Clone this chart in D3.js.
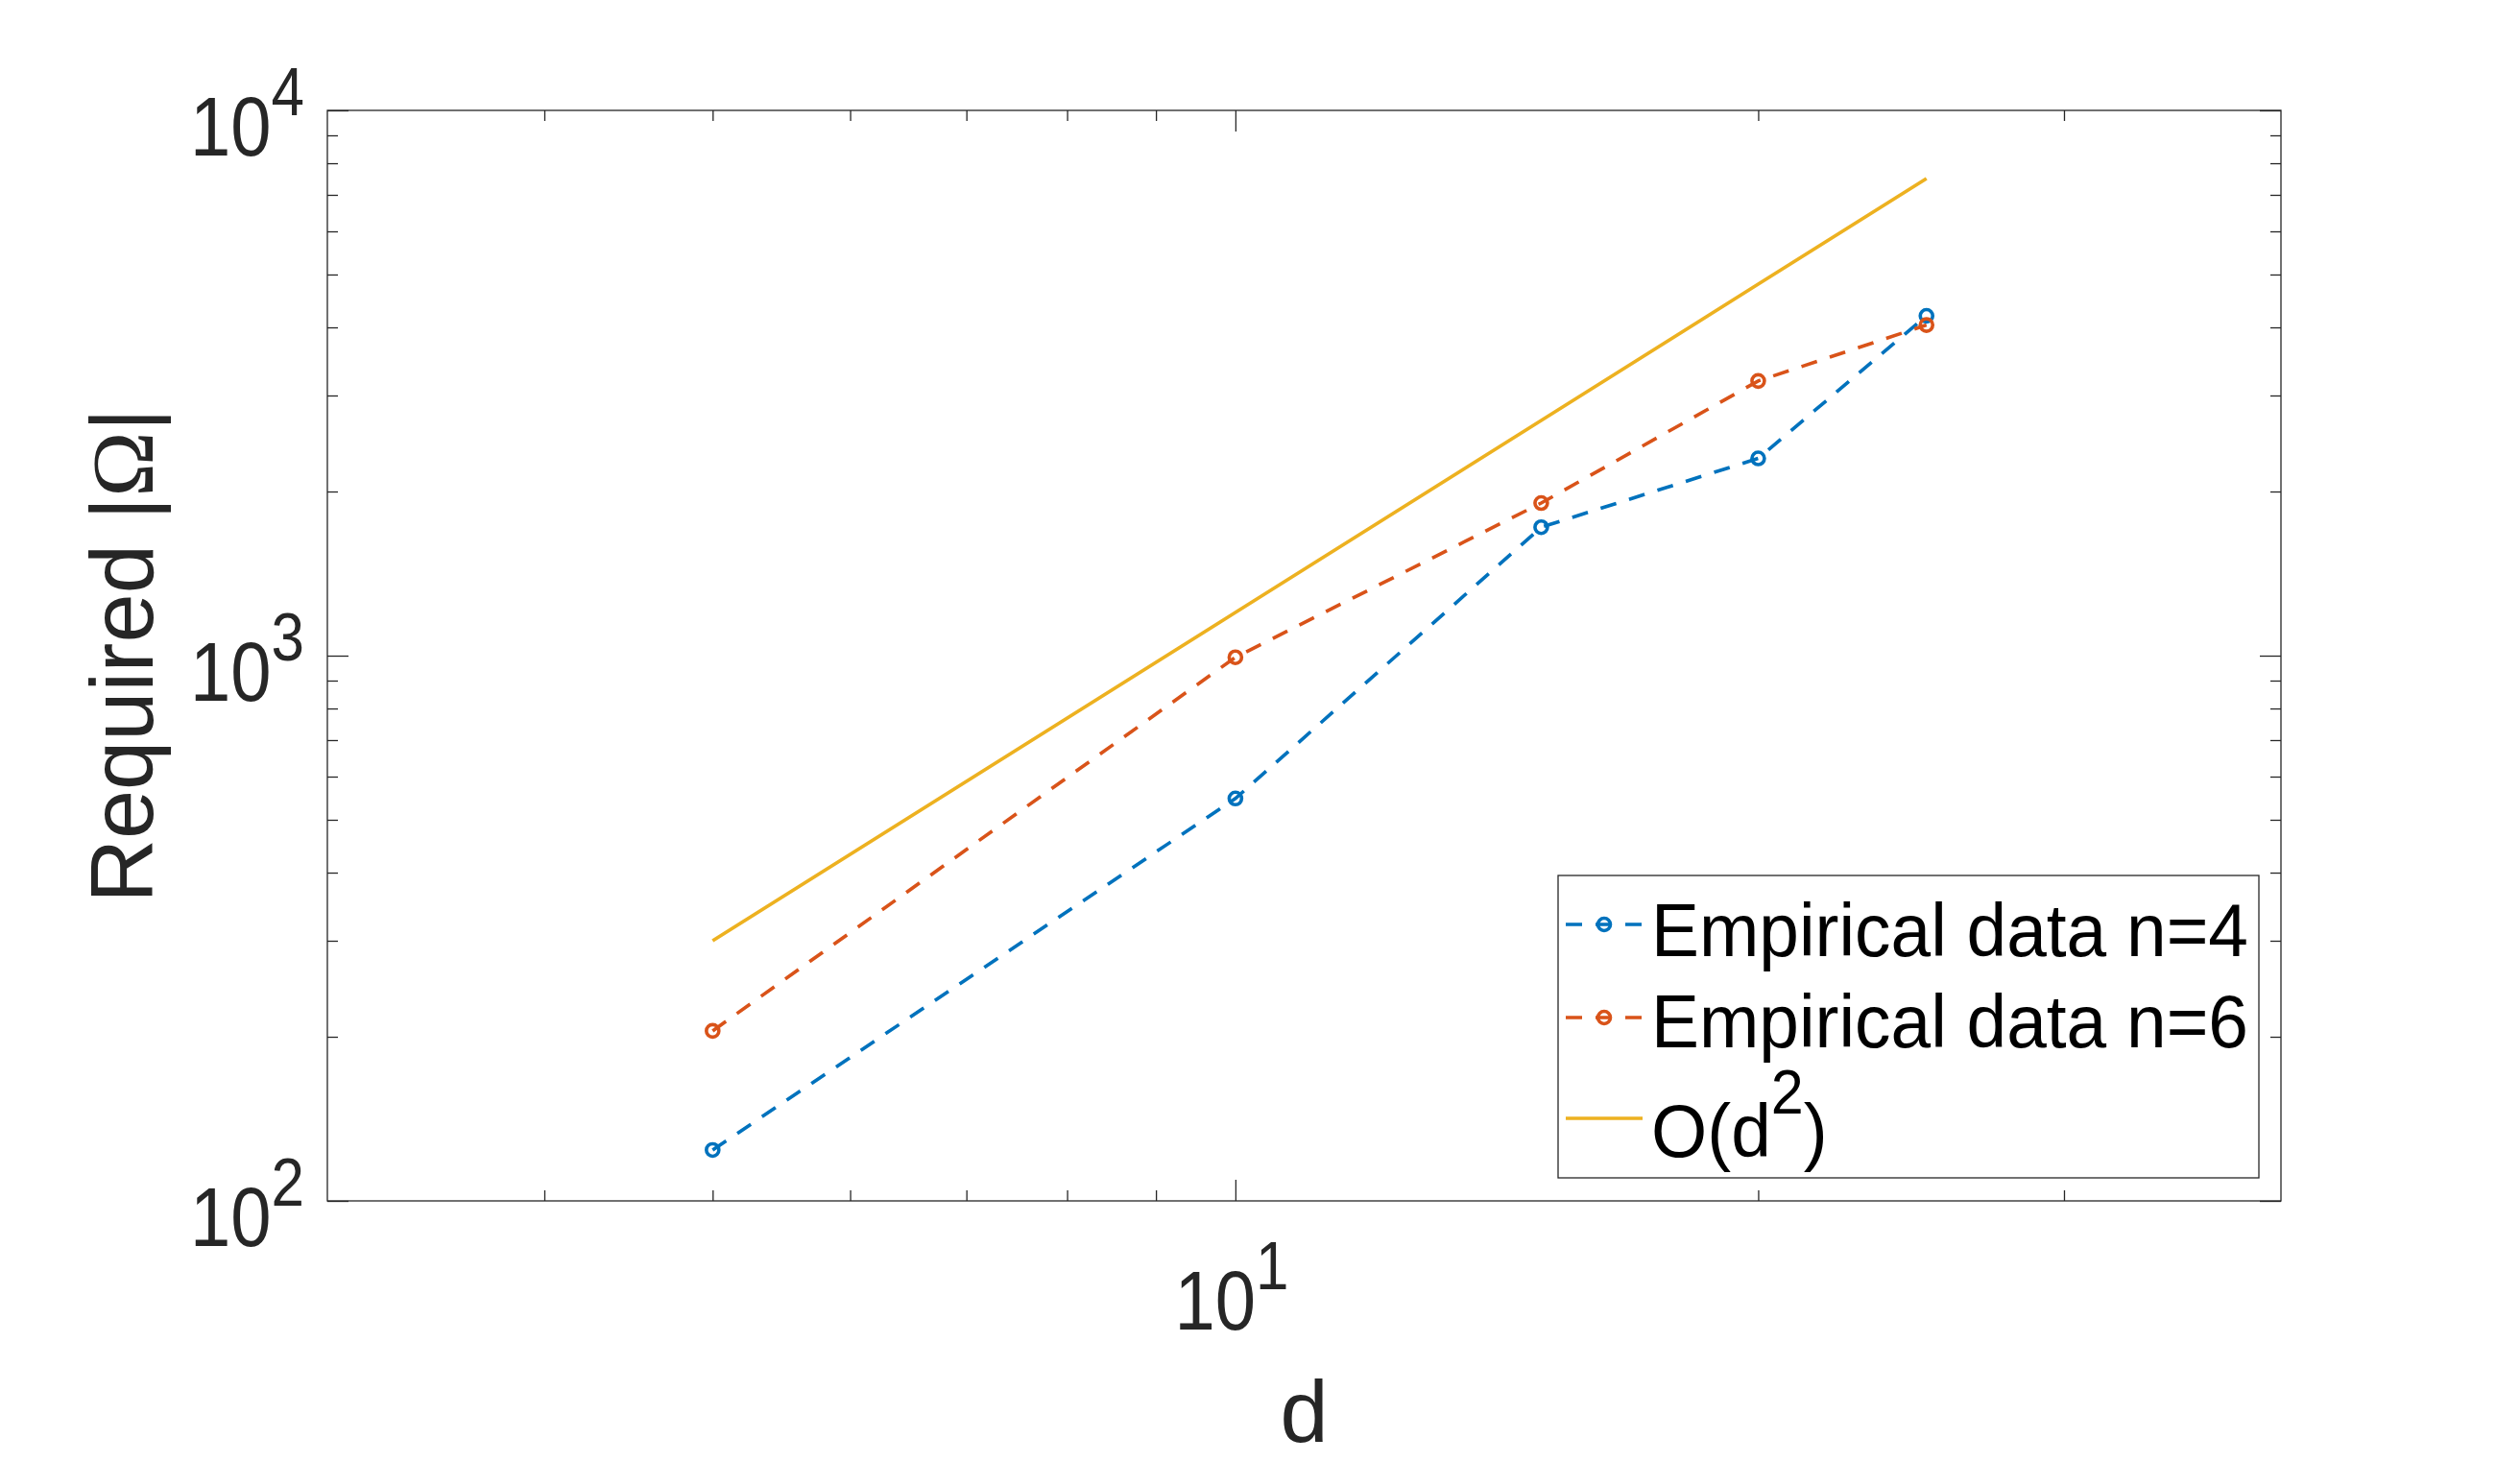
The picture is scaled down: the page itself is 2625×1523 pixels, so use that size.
<!DOCTYPE html>
<html>
<head>
<meta charset="utf-8">
<script src="https://cdnjs.cloudflare.com/ajax/libs/d3/7.8.5/d3.min.js"></script>
<style>
  body { margin: 0; background: #fff; }
  text { font-family: "Liberation Sans", Arial, Helvetica, sans-serif; }
</style>
</head>
<body>
<div class="chart"></div>
<script>
// Data
var dims = [5, 10, 15, 20, 25];
var n4Values = [124, 547, 1720, 2300, 4200];
var n6Values = [205, 993, 1905, 3190, 4040];
var refValues = [300, 1200, 2700, 4800, 7500];

var xMajorTicks = [10];
var xMinorTicks = [4, 5, 6, 7, 8, 9, 20, 30];
var yMajorTicks = [100, 1000, 10000];
var yMinorTicks = [200, 300, 400, 500, 600, 700, 800, 900,
                   2000, 3000, 4000, 5000, 6000, 7000, 8000, 9000];

var legendLabels = ["Empirical data n=4", "Empirical data n=6", "O(d"];

// SVG area
var svgWidth = 2625;
var svgHeight = 1523;
var margin = {top: 115, right: 249, bottom: 272, left: 341};
var width = svgWidth - margin.left - margin.right;
var height = svgHeight - margin.top - margin.bottom;

var blue = "#0072BD", orange = "#D95319", yellow = "#EDB120";
var axisColor = "#262626";

var svg = d3.select(".chart")
  .append("svg")
  .attr("width", svgWidth)
  .attr("height", svgHeight)
  .style("background", "#fff");

var chart = svg.append("g")
  .attr("transform", "translate(" + margin.left + "," + margin.top + ")");

// Scales
var x = d3.scaleLog().domain([3, 40]).range([0, width]);
var y = d3.scaleLog().domain([100, 10000]).range([height, 0]);

// Tick marks on all four sides, pointing inward
function ticks(axisFn, scale, vals, len, tx, ty) {
  var g = chart.append("g")
    .attr("transform", "translate(" + tx + "," + ty + ")")
    .call(axisFn(scale).tickValues(vals).tickSize(-len).tickFormat(""));
  g.select(".domain").remove();
  g.selectAll("line").attr("stroke", axisColor).attr("stroke-width", 1.3);
}
ticks(d3.axisBottom, x, xMinorTicks, 11, 0, height);
ticks(d3.axisBottom, x, xMajorTicks, 22, 0, height);
ticks(d3.axisTop, x, xMinorTicks, 11, 0, 0);
ticks(d3.axisTop, x, xMajorTicks, 22, 0, 0);
ticks(d3.axisLeft, y, yMinorTicks, 11, 0, 0);
ticks(d3.axisLeft, y, yMajorTicks, 22, 0, 0);
ticks(d3.axisRight, y, yMinorTicks, 11, width, 0);
ticks(d3.axisRight, y, yMajorTicks, 22, width, 0);

// Box
chart.append("rect")
  .attr("width", width).attr("height", height)
  .attr("fill", "none").attr("stroke", axisColor).attr("stroke-width", 1.3);

// Tick labels 10^k (glyphs a little taller than wide, like the original)
function powLabel(sel, v) {
  var k = Math.round(Math.log10(v));
  sel.append("tspan").text("10");
  sel.append("tspan").attr("font-size", 62).attr("dy", -37).text(k);
}
yMajorTicks.forEach(function(v) {
  var t = chart.append("text")
    .attr("transform", "translate(-24," + (y(v) + 47) + ") scale(1,1.14)")
    .attr("text-anchor", "end")
    .attr("font-size", 76).attr("fill", axisColor);
  powLabel(t, v);
});
xMajorTicks.forEach(function(v) {
  var t = chart.append("text")
    .attr("transform", "translate(" + (x(v) - 4) + "," + (height + 134) + ") scale(1,1.14)")
    .attr("text-anchor", "middle")
    .attr("font-size", 76).attr("fill", axisColor);
  powLabel(t, v);
});

// Axis labels
chart.append("text")
  .attr("x", width / 2).attr("y", height + 251)
  .attr("text-anchor", "middle")
  .attr("font-size", 90).attr("fill", axisColor)
  .text("d");

var yl = chart.append("text")
  .attr("transform", "translate(" + (159 - margin.left) + "," + (height / 2) + ") rotate(-90)")
  .attr("text-anchor", "middle")
  .attr("font-size", 92).attr("fill", axisColor);
yl.append("tspan").text("Required |");
yl.append("tspan").attr("font-family", "'Liberation Serif', 'DejaVu Serif', serif").text("\u03A9");
yl.append("tspan").text("|");

// Lines
var line = d3.line()
  .x(function(d) { return x(d[0]); })
  .y(function(d) { return y(d[1]); });

var series = [
  {vals: n4Values, color: blue, dash: "17,14", marker: true},
  {vals: n6Values, color: orange, dash: "17,14", marker: true},
  {vals: refValues, color: yellow, dash: null, marker: false}
];

series.forEach(function(s) {
  var pts = dims.map(function(d, i) { return [d, s.vals[i]]; });
  chart.append("path")
    .datum(pts)
    .attr("d", line)
    .attr("fill", "none")
    .attr("stroke", s.color)
    .attr("stroke-width", 3.6)
    .attr("stroke-dasharray", s.dash);
  if (s.marker) {
    chart.selectAll(null)
      .data(pts)
      .enter().append("circle")
      .attr("cx", function(d) { return x(d[0]); })
      .attr("cy", function(d) { return y(d[1]); })
      .attr("r", 6.5)
      .attr("fill", "none")
      .attr("stroke", s.color)
      .attr("stroke-width", 3.6);
  }
});

// Legend
var leg = svg.append("g");
leg.append("rect")
  .attr("x", 1623).attr("y", 912)
  .attr("width", 730).attr("height", 315)
  .attr("fill", "#fff").attr("stroke", axisColor).attr("stroke-width", 1.3);

var rowSym = [963, 1060, 1165];
var rowText = [996, 1091, 1205];
series.forEach(function(s, i) {
  leg.append("line")
    .attr("x1", 1631).attr("x2", 1711)
    .attr("y1", rowSym[i]).attr("y2", rowSym[i])
    .attr("stroke", s.color).attr("stroke-width", 3.6)
    .attr("stroke-dasharray", s.dash);
  if (s.marker) {
    leg.append("circle")
      .attr("cx", 1671).attr("cy", rowSym[i]).attr("r", 6.5)
      .attr("fill", "none").attr("stroke", s.color).attr("stroke-width", 3.6);
  }
  var t = leg.append("text")
    .attr("transform", "translate(1720," + rowText[i] + ") scale(0.985,1.03)")
    .attr("font-size", 76).attr("fill", "#000");
  t.append("tspan").text(legendLabels[i]);
  if (i === 2) {
    t.append("tspan").attr("font-size", 62).attr("dy", -44).text("2");
    t.append("tspan").attr("dy", 44).text(")");
  }
});
</script>
</body>
</html>
